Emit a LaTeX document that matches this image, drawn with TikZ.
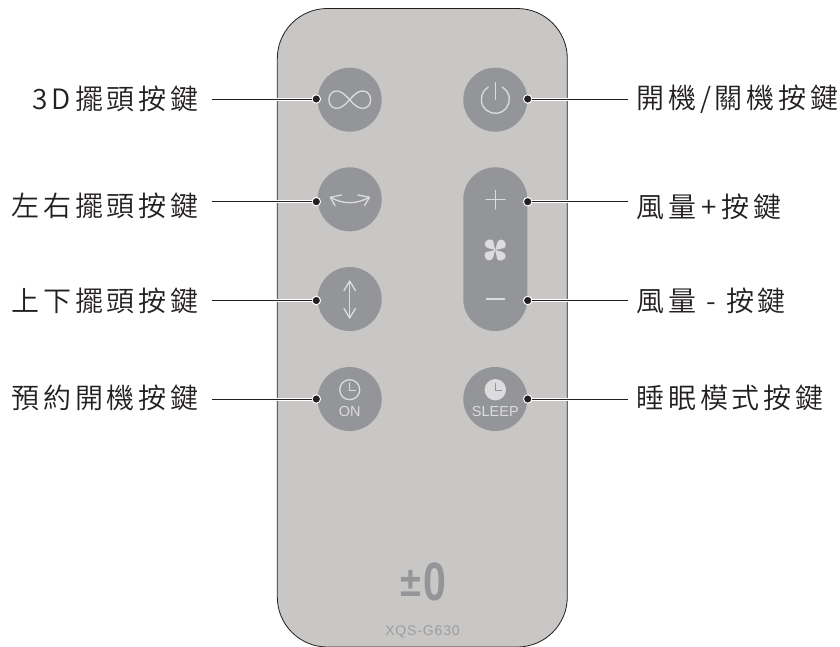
\documentclass[tikz,border=0pt]{standalone}
\usepackage{fontspec}
\newfontfamily\cjk[LetterSpace=14]{Noto Sans CJK TC DemiLight}
\setmainfont{Liberation Sans}
\definecolor{body}{HTML}{C8C7C5}
\definecolor{btn}{HTML}{949598}
\definecolor{ico}{HTML}{DCDCDC}
\definecolor{ink}{HTML}{231F20}
\tikzset{
 labl/.style={font=\cjk\fontsize{28}{30}\selectfont,text=ink,inner sep=0pt},
 button/.style={circle,fill=btn,minimum size=64pt,inner sep=0pt},
 leader/.style={draw=ink,line width=1pt,preaction={draw=white,line width=3pt}},
 pin/.style={circle,fill=ink,draw=white,line width=1pt,minimum size=8.5pt,inner sep=0pt},
 icon/.style={draw=ico,line width=1.3pt,line cap=round,line join=round},
 captext/.style={font=\fontsize{14.5}{16}\selectfont,text=ico,inner sep=0pt},
}
\begin{document}
\begin{tikzpicture}[x=1pt,y=-1pt]
\useasboundingbox (0,0) rectangle (840,646);
\draw[draw=ink,fill=body,line width=0.8pt] (277.3,58.5) arc[start angle=180,end angle=270,radius=50] -- (517.3,8.5) arc[start angle=270,end angle=360,radius=50] -- (567.3,597) arc[start angle=0,end angle=90,radius=50] -- (327.3,647) arc[start angle=90,end angle=180,radius=50] -- cycle;
% buttons
\node[button] (b3d) at (349.7,99.7) {};
\node[button] (blr) at (349.7,199.3) {};
\node[button] (bud) at (349.7,299) {};
\node[button] (bon) at (349.7,399) {};
\node[button] (bpw) at (495.3,99.7) {};
\node[button] (bsl) at (495.3,399) {};
\fill[btn] (463.3,199.3) arc[start angle=180,end angle=360,radius=32] -- (527.3,299) arc[start angle=0,end angle=180,radius=32] -- cycle;
% icons
\draw[icon] (349.7,99.7) .. controls (344,93.5) and (340,90.5) .. (336,91) .. controls (326.5,92) and (326.5,107.5) .. (336,108.3) .. controls (340,108.8) and (344,106) .. (349.7,99.7) .. controls (355,93.5) and (359,90.5) .. (363.5,91) .. controls (373,92) and (373,107.5) .. (363.5,108.3) .. controls (359,108.8) and (355,106) .. (349.7,99.7);
\draw[icon] (488.3,87.2) arc[start angle=240,end angle=-60,radius=14];
\draw[icon] (495.3,82.5) -- (495.3,99.3);
\draw[icon] (330.5,197.3) .. controls (343,204.5) and (356,204.5) .. (369.3,197.3);
\draw[icon] (341.5,195) -- (330.3,197.3) -- (335,205.5);
\draw[icon] (358,195) -- (369.5,197.3) -- (364.5,205.5);
\draw[icon] (349.7,282) -- (349.7,317);
\draw[icon] (344,290.5) -- (349.7,281) -- (355.4,290.5);
\draw[icon] (344,308.5) -- (349.7,318) -- (355.4,308.5);
\draw[icon] (349.7,389.7) circle (10);
\draw[icon] (349.7,383) -- (349.7,390.5) -- (355.5,390.5);
\fill[ico] (495.3,389.7) circle (10.7);
\draw[draw=btn,line width=1.3pt] (495.3,383) -- (495.3,390.5) -- (501.5,390.5);
\draw[icon] (495.3,190.5) -- (495.3,209) (486,199.5) -- (505,199.5);
\draw[icon] (486.5,299) -- (504.5,299);
% fan
\foreach \a in {0,90,180,270}{
 \begin{scope}[shift={(495.2,250)},rotate=\a]
 \fill[ico] (0,0) .. controls (-3,-1.5) and (-10.5,-1) .. (-10.5,-6) .. controls (-10.5,-10.5) and (-3,-12) .. (-2,-9) .. controls (-1.5,-6) and (-0.7,-3) .. (0,0) -- cycle;
 \end{scope}
}
\node[captext] (ton) at (349.7,411.7) {ON};
\node[captext] (tsl) at (495.3,411.7) {SLEEP};
% logo
\node[font=\bfseries\fontsize{42}{44}\selectfont,text=btn,inner sep=0pt,anchor=base] (logoa) at (410.5,596) {\scalebox{0.9}[1]{±}};
\node[font=\bfseries\fontsize{54}{56}\selectfont,text=btn,inner sep=0pt,anchor=base] (logob) at (434.7,600.5) {\scalebox{0.76}[1]{0}};
\node[font=\fontsize{14}{16}\selectfont,text=btn!85!body,inner sep=0pt] (model) at (422.5,631.7) {\addfontfeature{LetterSpace=6}XQS-G630};
% labels
\node[labl,anchor=east] (l1) at (199,99) {3D擺頭按鍵};
\node[labl,anchor=east] (l2) at (199,206) {左右擺頭按鍵};
\node[labl,anchor=east] (l3) at (199,300.7) {上下擺頭按鍵};
\node[labl,anchor=east] (l4) at (199,397.7) {預約開機按鍵};
\node[labl,anchor=west] (r1) at (636,99) {開機/關機按鍵};
\node[labl,anchor=west] (r2) at (636,206.7) {風量\hspace{5pt}+\hspace{5pt}按鍵};
\node[labl,anchor=west] (r3) at (636,300.7) {風量 - 按鍵};
\node[labl,anchor=west] (r4) at (636,398.3) {睡眠模式按鍵};
% connectors
\coordinate (a1) at (212,99); \coordinate (a2) at (212,201.7); \coordinate (a3) at (212,300.5); \coordinate (a4) at (212,399);
\coordinate (c1) at (628,99); \coordinate (c2) at (628,201.7); \coordinate (c3) at (628,300.5); \coordinate (c4) at (628,399);
\node[pin] (p1) at (316.3,99) {};
\node[pin] (p2) at (316.3,201.7) {};
\node[pin] (p3) at (316.3,300.5) {};
\node[pin] (p4) at (316.3,399) {};
\node[pin] (q1) at (527.7,99) {};
\node[pin] (q2) at (527.7,201.7) {};
\node[pin] (q3) at (527.7,300.5) {};
\node[pin] (q4) at (527.7,399) {};
\foreach \s/\t in {a1/p1,a2/p2,a3/p3,a4/p4,c1/q1,c2/q2,c3/q3,c4/q4}{
 \draw[leader] (\s) -- (\t);
}
\end{tikzpicture}
\end{document}
